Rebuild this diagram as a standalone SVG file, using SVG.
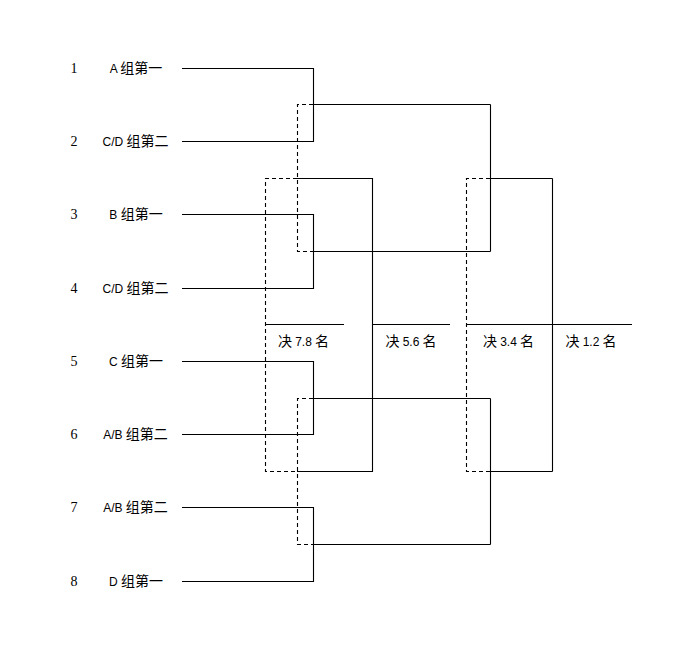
<svg xmlns="http://www.w3.org/2000/svg" width="700" height="651" viewBox="0 0 700 651">
<style>
.ln{fill:none;stroke:#000;stroke-width:1.1}
.ds{fill:none;stroke:#000;stroke-width:1.1;stroke-dasharray:4 3}
.num{font-family:"Liberation Serif","Noto Serif CJK SC",serif;font-size:14px;fill:#000;text-anchor:middle}
.lab{font-family:"Noto Sans CJK SC","Liberation Sans",sans-serif;font-size:14px;fill:#000;text-anchor:middle}
.lat{font-family:"Liberation Sans",sans-serif;font-size:12px}
</style>
<rect width="700" height="651" fill="#fff"/>
<g id="seed1"><text class="num" x="74" y="72.5">1</text><text class="lab" x="136" y="73"><tspan class="lat">A </tspan>组第一</text></g>
<g id="seed2"><text class="num" x="74" y="145.5">2</text><text class="lab" x="135.5" y="146"><tspan class="lat">C/D </tspan>组第二</text></g>
<g id="seed3"><text class="num" x="74" y="218.5">3</text><text class="lab" x="136" y="219"><tspan class="lat">B </tspan>组第一</text></g>
<g id="seed4"><text class="num" x="74" y="292.5">4</text><text class="lab" x="135.5" y="293"><tspan class="lat">C/D </tspan>组第二</text></g>
<g id="seed5"><text class="num" x="74" y="365.5">5</text><text class="lab" x="136" y="366"><tspan class="lat">C </tspan>组第一</text></g>
<g id="seed6"><text class="num" x="74" y="438.5">6</text><text class="lab" x="135.5" y="439"><tspan class="lat">A/B </tspan>组第二</text></g>
<g id="seed7"><text class="num" x="74" y="511.5">7</text><text class="lab" x="135.5" y="512"><tspan class="lat">A/B </tspan>组第二</text></g>
<g id="seed8"><text class="num" x="74" y="585.5">8</text><text class="lab" x="136" y="586"><tspan class="lat">D </tspan>组第一</text></g>
<g id="place78"><text class="lab" x="303.5" y="346">决 <tspan class="lat">7.8</tspan> 名</text></g>
<g id="place56"><text class="lab" x="411" y="346">决 <tspan class="lat">5.6</tspan> 名</text></g>
<g id="place34"><text class="lab" x="508.5" y="346">决 <tspan class="lat">3.4</tspan> 名</text></g>
<g id="place12"><text class="lab" x="591" y="346">决 <tspan class="lat">1.2</tspan> 名</text></g>
<g id="connectors">
<path class="ln" d="M182,68.5H313.5V141.5H182M313.5,104.5H490.5"/>
<path class="ln" d="M182,214.5H313.5V288.5H182M313.5,251.5H490.5"/>
<path class="ln" d="M182,361.5H313.5V434.5H182M313.5,398.5H490.5"/>
<path class="ln" d="M182,507.5H313.5V581.5H182M313.5,544.5H490.5"/>
<path class="ln" d="M490.5,104.5V251.5M490.5,178.5H552.5M490.5,398.5V544.5M490.5,471.5H552.5M552.5,178.5V471.5M467,324.5H632"/>
<path class="ln" d="M297,178.5H372.5V471.5H297M372.5,324.5H450"/>
<path class="ln" d="M265.5,324.5H344"/>
<path class="ds" d="M313,104.5H297.5V251.5H313"/>
<path class="ds" d="M313,398.5H297.5V544.5H313"/>
<path class="ds" d="M297,178.5H265.5V471.5H297"/>
<path class="ds" d="M490,178.5H466.5V471.5H490"/>
</g>
</svg>
